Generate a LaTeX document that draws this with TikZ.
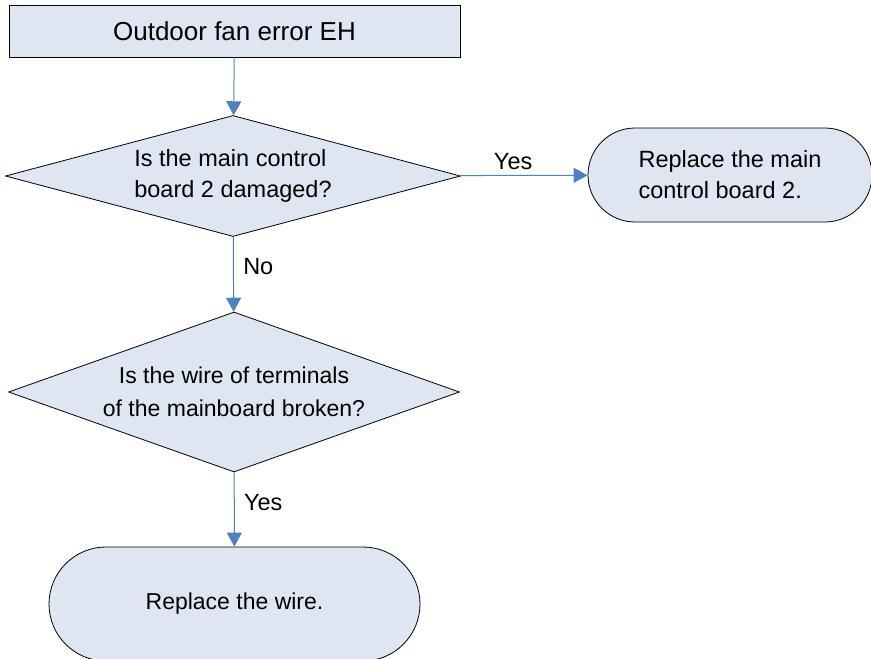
\documentclass[tikz,border=0pt]{standalone}
\usepackage{fontspec}
\setmainfont{Liberation Sans}
\usetikzlibrary{shapes.geometric,shapes.misc,arrows.meta}
\definecolor{boxfill}{RGB}{222,230,241}
\definecolor{arrowblue}{RGB}{79,129,189}

\begin{document}
\begin{tikzpicture}[x=1pt,y=-1pt,
  every node/.style={font=\fontsize{23.5}{31}\selectfont},
  box/.style={draw,fill=boxfill,line width=0.8pt,inner sep=0pt},
  flow/.style={draw=arrowblue,line width=1pt,-{Triangle[length=14pt,width=15pt]}}]
  \useasboundingbox (0,0) rectangle (871,659);
  \node[box,rectangle,minimum width=451pt,minimum height=52pt,font=\fontsize{26}{30}\selectfont] (start) at (234.5,31) {Outdoor fan error EH};
  \node[box,diamond,shape aspect=3.76,minimum width=455pt,minimum height=121pt,align=left] (dmgchk) at (233,176) {Is the main control\\board 2 damaged?};
  \node[box,rounded rectangle,minimum width=284pt,minimum height=94pt,align=left] (replboard) at (730,175) {Replace the main\\control board 2.};
  \node[box,diamond,shape aspect=2.82,minimum width=451pt,minimum height=160pt,align=center,font=\fontsize{23}{33}\selectfont] (wirechk) at (234,392) {Is the wire of terminals\\of the mainboard broken?};
  \node[box,rounded rectangle,minimum width=371pt,minimum height=114pt,font=\fontsize{23}{30}\selectfont] (replwire) at (234.5,604) {Replace the wire.};
  \draw[flow] (start) -- (dmgchk);
  \draw[flow] (dmgchk) -- (replboard) node[pos=0.42,above=2pt] {Yes};
  \draw[flow] (dmgchk) -- (wirechk) node[pos=0.4,right=6pt] {No};
  \draw[flow] (wirechk) -- (replwire) node[pos=0.4,right=6pt] {Yes};
\end{tikzpicture}
\end{document}
